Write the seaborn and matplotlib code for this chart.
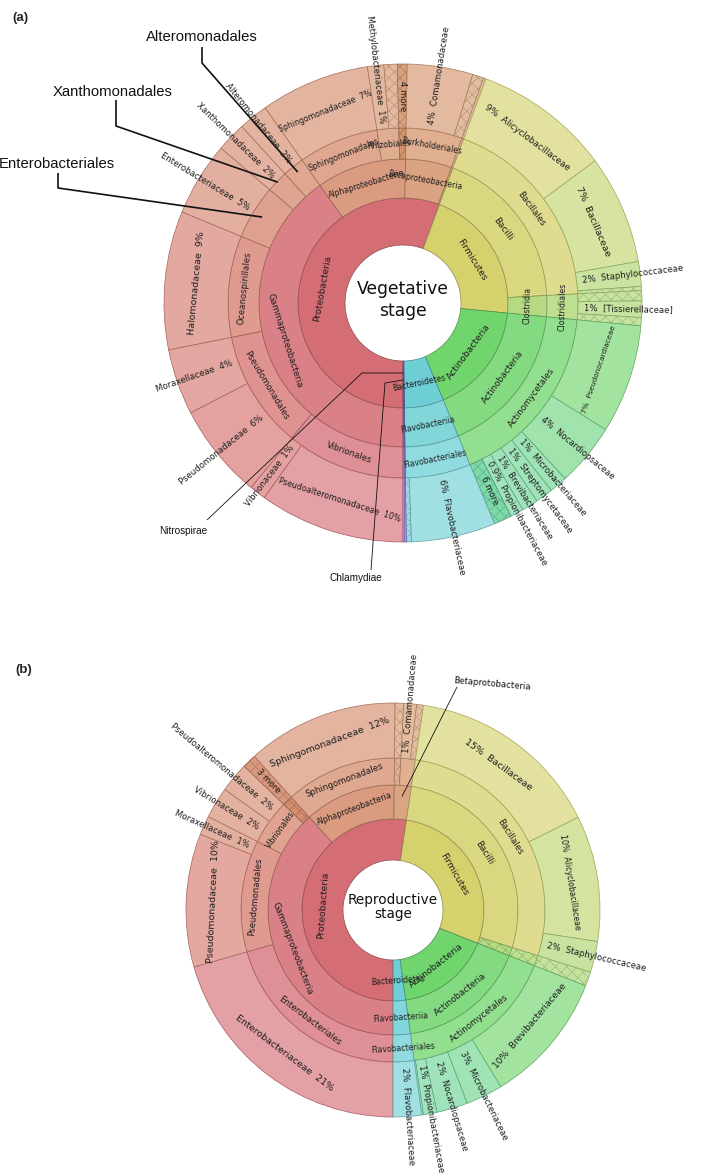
"""
Krona-style taxonomy sunbursts for the vegetative and reproductive stages.
Values are % of reads, listed clockwise starting at 6 o'clock.
'' = unlabeled slice, '#' = hatched (collapsed) slice, '##' = darker collapsed slice,
'#N more' = labeled collapsed slice
"""

import colorsys
import numpy as np
import matplotlib.pyplot as plt
from matplotlib.patches import Wedge
from matplotlib import font_manager
import seaborn as sns

# ---------------- (a) vegetative stage ----------------
veg_phylum = ["Proteobacteria", "Firmicutes", "Actinobacteria", "Bacteroidetes", "Nitrospirae", "Chlamydiae"]
veg_phylum_pct = [55.64, 20.89, 17.22, 6.03, 0.11, 0.11]

veg_class = ["Gammaproteobacteria", "Alphaproteobacteria", "Betaproteobacteria", "",
             "Bacilli", "Clostridia", "Actinobacteria", "Flavobacteriia", "", ""]
veg_class_pct = [40.22, 10.06, 5.19, 0.17, 18.53, 2.36, 17.22, 6.03, 0.11, 0.11]

veg_order = ["Vibrionales", "Pseudomonadales", "Oceanospirillales", "Enterobacteriales",
             "Xanthomonadales", "Alteromonadales", "Sphingomonadales", "Rhizobiales", "##",
             "Burkholderiales", "", "Bacillales", "Clostridiales", "Actinomycetales",
             "Flavobacteriales", "", ""]
veg_order_pct = [10.97, 10.89, 9.36, 5.0, 2.0, 2.0, 7.4, 2.0, 0.66,
                 5.19, 0.17, 18.53, 2.36, 17.22, 6.03, 0.11, 0.11]

veg_family = ["Pseudoalteromonadaceae", "Vibrionaceae", "Pseudomonadaceae", "Moraxellaceae",
              "Halomonadaceae", "Enterobacteriaceae", "Xanthomonadaceae", "Alteromonadaceae",
              "Sphingomonadaceae", "Methylobacteriaceae", "#", "#4 more", "Comamonadaceae", "#", "",
              "Alicyclobacillaceae", "Bacillaceae", "Staphylococcaceae", "#", "#", "[Tissierellaceae]", "#",
              "Pseudonocardiaceae", "Nocardiopsaceae", "Microbacteriaceae", "Streptomycetaceae",
              "Brevibacteriaceae", "Propionibacteriaceae", "#6 more",
              "Flavobacteriaceae", "#", "", ""]
veg_family_pct = [9.86, 1.11, 6.44, 4.45, 9.36, 5.0, 2.0, 2.0,
                  7.4, 1.1, 0.9, 0.66, 4.44, 0.75, 0.17,
                  9.22, 7.36, 1.67, 0.28, 0.69, 1.11, 0.56,
                  7.36, 4.25, 1.2, 1.2, 1.1, 0.9, 1.21,
                  5.69, 0.34, 0.11, 0.11]

# ---------------- (b) reproductive stage ----------------
rep_phylum = ["Proteobacteria", "Firmicutes", "Actinobacteria", "Bacteroidetes"]
rep_phylum_pct = [52.36, 28.61, 16.81, 2.22]

rep_class = ["Gammaproteobacteria", "Alphaproteobacteria", "Betaprotobacteria",
             "Bacilli", "#", "Actinobacteria", "Flavobacteriia"]
rep_class_pct = [38.33, 11.83, 2.20, 27.5, 1.11, 16.81, 2.22]

rep_order = ["Enterobacteriales", "Pseudomonadales", "Vibrionales", "##", "Sphingomonadales",
             "#", "", "Bacillales", "#", "Actinomycetales", "Flavobacteriales"]
rep_order_pct = [20.56, 11.89, 4.78, 1.10, 11.83, 0.67, 1.53, 27.5, 1.11, 16.81, 2.22]

rep_family = ["Enterobacteriaceae", "Pseudomonadaceae", "Moraxellaceae", "Vibrionaceae",
              "Pseudoalteromonadaceae", "#3 more",
              "Sphingomonadaceae", "#", "Comamonadaceae", "#",
              "Bacillaceae", "Alicyclobacillaceae", "Staphylococcaceae", "#",
              "Brevibacteriaceae", "Microbacteriaceae", "Nocardiopsaceae", "Propionibacteriaceae", "",
              "Flavobacteriaceae"]
rep_family_pct = [20.56, 10.4, 1.49, 2.45, 2.33, 1.10,
                  11.83, 0.67, 1.0, 0.53,
                  15.25, 9.83, 2.42, 1.11,
                  10.31, 2.89, 2.42, 1.06, 0.13,
                  2.22]

# ---------------- styling ----------------
sns.set_theme(style="white")
plt.rcParams['font.family'] = ['DejaVu Sans']
plt.rcParams['hatch.linewidth'] = 0.5

installed = {f.name for f in font_manager.fontManager.ttflist}
NARROW = 'Liberation Sans Narrow' if 'Liberation Sans Narrow' in installed else 'Liberation Sans'
NARROW_FS = 8.4 if NARROW == 'Liberation Sans Narrow' else 7.2

# Krona-like colouring: hue drifts across each phylum, lightness grows with depth
PHYLUM_HUE = {"Proteobacteria": (356, 386), "Firmicutes": (58, 88), "Actinobacteria": (118, 150),
              "Bacteroidetes": (183, 190), "Nitrospirae": (235, 235), "Chlamydiae": (275, 275)}
RING_L = [0.63, 0.68, 0.72, 0.76]
RING_FS = [6.6, 6.3, 6.2]
SAT = 0.55
TXT = '#1e1e1e'


def hls(h, l, s):
    return colorsys.hls_to_rgb((h % 360) / 360.0, l, s)


def pct_text(v):
    return f"{v:.1f}%" if v < 1 else f"{v:.0f}%"


def pos(cx, cy, r, clock):
    t = np.radians(clock)
    return cx + r * np.sin(t), cy - r * np.cos(t)


def norm_rot(a):
    return (a + 90) % 180 - 90


def text_w(s, fs):
    return len(s) * 0.59 * fs * 100 / 72


def draw_krona(ax, cx, cy, radii, rings, callouts, centre, centre_fs, centre_ls):
    start = 180.0
    phyla, phyla_pct = rings[0]
    pb = start + np.concatenate([[0], np.cumsum(phyla_pct)]) * 3.6
    spans = list(zip(phyla, pb[:-1], pb[1:]))
    segs = {}

    for k, (names, vals) in enumerate(rings):
        b = start + np.concatenate([[0], np.cumsum(vals)]) * 3.6
        r0, r1 = radii[k], radii[k + 1]
        rm = (r0 + r1) / 2
        leaf = k == len(rings) - 1
        for i, (name, a0, a1) in enumerate(zip(names, b[:-1], b[1:])):
            mid = (a0 + a1) / 2
            ph, p0, p1 = next(s for s in spans if s[1] - 1e-6 <= mid <= s[2] + 1e-6)
            h0, h1 = PHYLUM_HUE[ph]
            hue = h0 + (h1 - h0) * (a0 - p0) / max(p1 - p0, 1e-9)
            hatched = name.startswith('#')
            more = hatched and len(name) > 1
            light = RING_L[k] - (0.09 if more else 0)
            face = hls(hue, light, SAT)
            edge = hls(hue, light * 0.66, SAT * 0.55)
            ax.add_patch(Wedge((cx, cy), r1, a0 - 90, a1 - 90, width=r1 - r0,
                               facecolor=face, edgecolor=edge, linewidth=0.5))
            if hatched:
                ax.add_patch(Wedge((cx, cy), r1, a0 - 90, a1 - 90, width=r1 - r0,
                                   facecolor='none', edgecolor=hls(hue, light * 0.8, SAT * 0.6),
                                   linewidth=0, hatch='xxx'))
            segs[(k, name)] = (a0, a1)
            label = name.lstrip('#')
            if not label or name in callouts:
                continue
            span = a1 - a0
            if more:
                # collapsed groups: short radial text in the middle of the ring
                x, y = pos(cx, cy, rm, mid)
                ax.text(x, y, label, rotation=norm_rot(90 - mid), rotation_mode='anchor',
                        ha='center', va='center', fontsize=6.1, color=TXT)
            elif not leaf:
                arc = rm * np.radians(span)
                fs = float(np.clip(arc / text_w(label, 1.0), 5.6, RING_FS[k]))
                x, y = pos(cx, cy, rm, mid)
                ax.text(x, y, label, rotation=norm_rot(-mid), rotation_mode='anchor',
                        ha='center', va='center', fontsize=fs, color=TXT)
            else:
                p = pct_text(vals[i])
                right = (mid % 360) < 180
                s = f"{p}  {label}" if right else f"{label}  {p}"
                if span >= 24:
                    arc = rm * np.radians(span)
                    fs = min(6.8, arc / text_w(s, 1.0))
                    x, y = pos(cx, cy, rm, mid)
                    ax.text(x, y, s, rotation=norm_rot(-mid), rotation_mode='anchor',
                            ha='center', va='center', fontsize=fs, color=TXT)
                else:
                    x, y = pos(cx, cy, r0 + 6, mid)
                    ax.text(x, y, s, rotation=norm_rot(90 - mid), rotation_mode='anchor',
                            ha='left' if right else 'right', va='center', fontsize=6.1, color=TXT)

    # outside call-outs
    for name, c in callouts.items():
        a0, a1 = segs[(c['ring'], name)]
        ex, ey = pos(cx, cy, c['r'], (a0 + a1) / 2)
        xs = [p[0] for p in c['path']] + [ex]
        ys = [p[1] for p in c['path']] + [ey]
        ax.plot(xs, ys, color='#111111', lw=c['lw'], solid_capstyle='butt')
        ax.text(c['xy'][0], c['xy'][1], c.get('text', name), ha='center', va='center',
                fontsize=c['fs'], family=c['family'], rotation=c.get('rot', 0), color='#111111')

    ax.text(cx, cy - 3, centre, ha='center', va='center', fontsize=centre_fs,
            linespacing=centre_ls, color='#111111')


fig = plt.figure(figsize=(7.09, 11.75), dpi=100)
ax = fig.add_axes([0, 0, 1, 1])
ax.set_xlim(0, 709)
ax.set_ylim(1175, 0)
ax.axis('off')

veg_callouts = {
    "Alteromonadales": dict(ring=2, r=168, xy=(202, 37), path=[(202, 47), (202, 63)],
                            lw=1.2, fs=10.7, family='Liberation Sans'),
    "Xanthomonadales": dict(ring=2, r=174, xy=(113, 92), path=[(116, 100), (116, 126)],
                            lw=1.2, fs=10.7, family='Liberation Sans'),
    "Enterobacteriales": dict(ring=2, r=165, xy=(57, 164), path=[(58, 173), (58, 188)],
                              lw=1.2, fs=10.7, family='Liberation Sans'),
    "Nitrospirae": dict(ring=0, r=70, xy=(183, 531), path=[(207, 520), (362, 373)],
                        lw=0.6, fs=NARROW_FS, family=NARROW),
    "Chlamydiae": dict(ring=0, r=77, xy=(356, 578), path=[(371, 570), (385, 383)],
                       lw=0.6, fs=NARROW_FS, family=NARROW),
}
rep_callouts = {
    "Betaprotobacteria": dict(ring=1, r=114, xy=(492, 684), path=[(457, 687)],
                              lw=0.6, fs=6.1, family='DejaVu Sans', rot=-5),
}

draw_krona(ax, 403, 303, [58, 105, 144, 175, 239],
           [(veg_phylum, veg_phylum_pct), (veg_class, veg_class_pct),
            (veg_order, veg_order_pct), (veg_family, veg_family_pct)],
           veg_callouts, "Vegetative\nstage", 12.3, 1.25)

draw_krona(ax, 393, 910, [50, 91, 125, 152, 207],
           [(rep_phylum, rep_phylum_pct), (rep_class, rep_class_pct),
            (rep_order, rep_order_pct), (rep_family, rep_family_pct)],
           rep_callouts, "Reproductive\nstage", 9.8, 1.05)

ax.text(12, 18, "(a)", fontsize=9.5, fontweight='bold', family='Liberation Sans', va='center')
ax.text(15, 670, "(b)", fontsize=9.5, fontweight='bold', family='Liberation Sans', va='center')

fig.savefig('out.png', dpi=100)
